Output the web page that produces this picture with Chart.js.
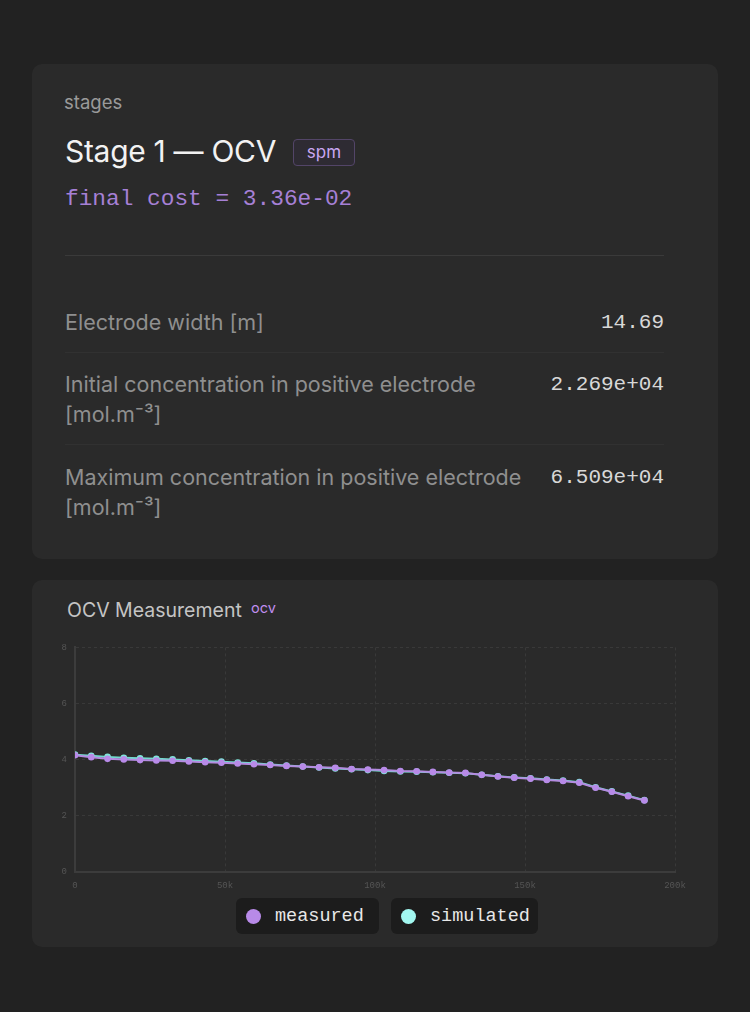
<!DOCTYPE html>
<html>
<head>
<meta charset="utf-8">
<script src="https://cdn.jsdelivr.net/npm/chart.js@4"></script>
<style>
  html, body { margin: 0; padding: 0; background: #222222; }
  body { width: 750px; height: 1012px; position: relative; overflow: hidden; font-family: Inter, "Noto Sans", sans-serif; }
  .card { position: absolute; left: 32px; width: 686px; background: #2a2a2a; border-radius: 10px; }
  .abs { position: absolute; white-space: nowrap; }
  .mono { font-family: "Liberation Mono", monospace; }
  .rowline { position: absolute; left: 65px; width: 599px; height: 1px; background: #313131; }
  .label { color: #8f8f8f; font-size: 21.5px; line-height: 30px; }
  .value { color: #d8d8d8; font-size: 21px; line-height: 30px; right: 86px; }
  #legend { position: absolute; left: 236px; top: 898px; display: flex; gap: 12px; }
  .lg { display: flex; align-items: center; box-sizing: border-box; height: 36px; padding: 0 0 0 10px; background: #1c1c1c; border-radius: 6px; color: #e8e8e8; font-size: 18.5px; }
  .dot { width: 15px; height: 15px; border-radius: 50%; margin-right: 14px; }
</style>
</head>
<body>
<div class="card" style="top:64px;height:495px;"></div>
<div class="card" style="top:580px;height:367px;"></div>

<div class="abs" style="left:64px;top:91px;font-size:18.5px;color:#9a9a9a;">stages</div>
<div class="abs" style="left:65px;top:133px;font-size:30px;color:#f2f2f2;letter-spacing:-0.3px;">Stage 1 — OCV</div>
<div class="abs" style="left:293px;top:139px;width:60px;height:25px;border:1.5px solid #534568;border-radius:4px;background:#2e2b33;color:#c9a7f2;font-size:17px;line-height:24px;text-align:center;">spm</div>
<div class="abs mono" style="left:65px;top:186px;font-size:22.8px;color:#a680d6;">final cost = 3.36e-02</div>
<div class="abs" style="left:65px;top:255px;width:599px;height:1px;background:#3a3a3a;"></div>

<div class="abs label" style="left:65px;top:307px;">Electrode width [m]</div>
<div class="abs value mono" style="top:308px;">14.69</div>
<div class="rowline" style="top:352px;"></div>
<div class="abs label" style="left:65px;top:369px;">Initial concentration in positive electrode<br>[mol.m⁻³]</div>
<div class="abs value mono" style="top:370px;">2.269e+04</div>
<div class="rowline" style="top:444px;"></div>
<div class="abs label" style="left:65px;top:462px;">Maximum concentration in positive electrode<br>[mol.m⁻³]</div>
<div class="abs value mono" style="top:463px;">6.509e+04</div>

<div class="abs" style="left:67px;top:598px;font-size:19.5px;color:#c4c4c4;">OCV Measurement</div>
<div class="abs" style="left:251px;top:599px;font-size:14.5px;color:#c08ef0;">ocv</div>

<div style="position:absolute;left:44px;top:634px;width:656px;height:263px;">
  <canvas id="ocv"></canvas>
</div>

<div id="legend" class="mono">
  <div class="lg" style="width:143px;"><span class="dot" style="background:#b88ae8;"></span>measured</div>
  <div class="lg" style="width:147px;"><span class="dot" style="background:#a2f7f0;"></span>simulated</div>
</div>

<script>
// discharge capacity (x) and voltages
var capacity = [0, 5420, 10850, 16270, 21690, 27110, 32540, 37960, 43380, 48810,
  54230, 59650, 65070, 70500, 75920, 81340, 86770, 92190, 97610, 103030,
  108460, 113880, 119300, 124730, 130150, 135570, 140990, 146420, 151840, 157260,
  162690, 168110, 173530, 178950, 184380, 189800];

var measured = [4.16, 4.09, 4.03, 4.01, 3.985, 3.97, 3.96, 3.94, 3.91, 3.89,
  3.865, 3.84, 3.81, 3.78, 3.755, 3.73, 3.71, 3.67, 3.65, 3.63,
  3.60, 3.59, 3.565, 3.54, 3.53, 3.46, 3.40, 3.36, 3.325, 3.28,
  3.24, 3.18, 3.00, 2.86, 2.70, 2.55];

var simulated = [4.18, 4.14, 4.10, 4.07, 4.05, 4.03, 4.01, 3.98, 3.95, 3.93,
  3.90, 3.87, 3.83, 3.79, 3.76, 3.72, 3.69, 3.66, 3.63, 3.60,
  3.58, 3.575, 3.555, 3.535, 3.52, 3.465, 3.41, 3.37, 3.335, 3.295,
  3.255, 3.20, 3.02, 2.87, 2.72, 2.56];

var xTicks = [0, 50000, 100000, 150000, 200000];
var xTickLabels = ['0', '50k', '100k', '150k', '200k'];

function pts(ys) {
  return capacity.map(function (x, i) { return { x: x, y: ys[i] }; });
}

var tickFont = { family: 'Liberation Mono', size: 9 };

var ctx = document.querySelector('#ocv').getContext('2d');

var ocvChart = new Chart(ctx, {
  type: 'line',
  data: {
    datasets: [{
      label: 'measured',
      data: pts(measured),
      borderColor: '#b48be0',
      backgroundColor: '#b88ae8',
      borderWidth: 2,
      pointRadius: 3.3,
      pointBorderWidth: 0,
      tension: 0
    }, {
      label: 'simulated',
      data: pts(simulated),
      borderColor: '#72d8cc',
      backgroundColor: '#7fe6da',
      borderWidth: 2,
      pointRadius: 3.3,
      pointBorderWidth: 0,
      tension: 0
    }]
  },
  options: {
    responsive: true,
    maintainAspectRatio: false,
    animation: false,
    layout: { padding: { top: 1, right: 25, left: 0, bottom: 0 } },
    plugins: {
      legend: { display: false },
      tooltip: { enabled: false }
    },
    scales: {
      x: {
        type: 'linear',
        min: 0,
        max: 200000,
        afterBuildTicks: function (s) {
          s.ticks = xTicks.map(function (v) { return { value: v }; });
        },
        afterFit: function (s) { s.height = 25; },
        ticks: {
          color: '#555555',
          font: tickFont,
          padding: 8,
          maxRotation: 0,
          callback: function (v) {
            var i = xTicks.indexOf(v);
            return i >= 0 ? xTickLabels[i] : '';
          }
        },
        grid: { color: '#393939', drawTicks: false },
        border: { display: true, color: '#3c3c3c', width: 2, dash: [3, 3] }
      },
      y: {
        min: 0,
        max: 8,
        afterFit: function (s) { s.width = 31; },
        ticks: {
          stepSize: 2,
          color: '#555555',
          font: tickFont,
          padding: 8
        },
        grid: { color: '#393939', drawTicks: false },
        border: { display: true, color: '#3c3c3c', width: 2, dash: [3, 3] }
      }
    }
  }
});
</script>
</body>
</html>
